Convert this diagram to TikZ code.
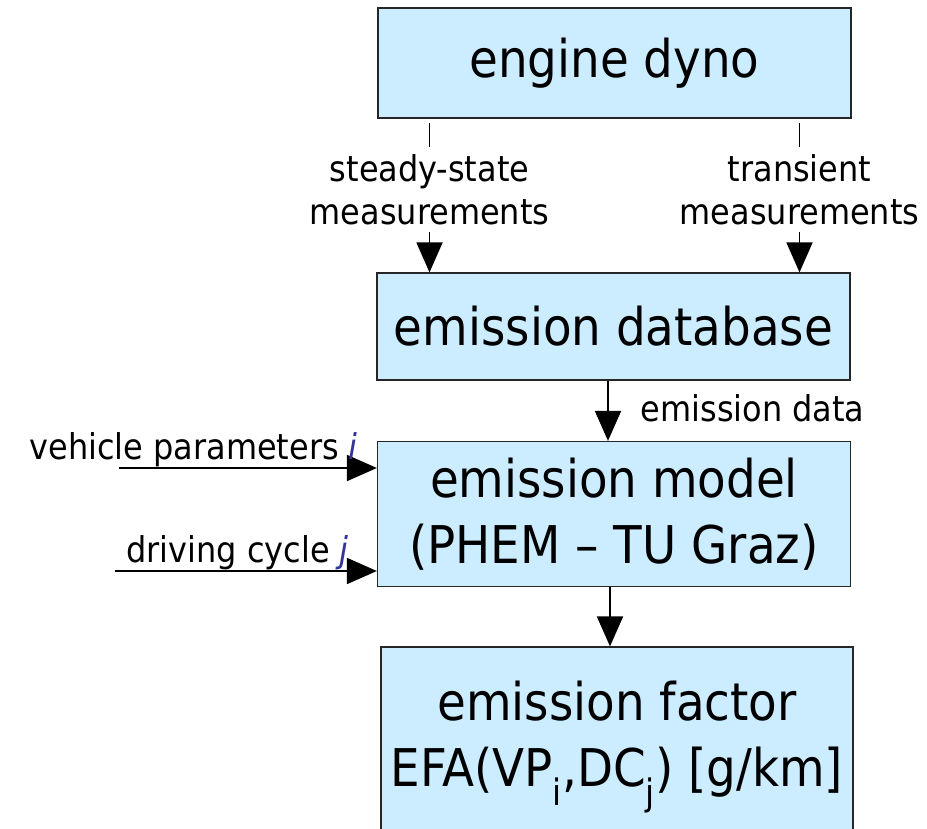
\documentclass[tikz,border=0pt]{standalone}
\usepackage{fontspec}
\setmainfont{DejaVu Sans Condensed}
\usetikzlibrary{arrows.meta}
\definecolor{boxblue}{RGB}{204,236,255}
\definecolor{idxblue}{RGB}{51,51,153}
\begin{document}
\begin{tikzpicture}[x=1pt,y=-1pt,
    box/.style={draw=black!85,line width=1.2pt,fill=boxblue,minimum width=473pt,
      align=center,inner sep=0pt,font=\fontsize{52}{66}\selectfont},
    lbl/.style={font=\fontsize{35.5}{43}\selectfont,align=center,inner sep=0pt},
    arr/.style={line width=1.8pt,-{Triangle[length=30pt,width=26pt]}}]
    \useasboundingbox (0,0) rectangle (927,829);

    % Kaesten
    \node[box,minimum height=110pt] (dyno) at (614.5,63) {engine dyno};
    \node[box,minimum height=107pt] (db) at (613.5,326.5) {emission database};
    \node[box,minimum height=145pt] (model) at (614,514) {emission model\\(PHEM -- TU Graz)};
    \node[box,minimum height=200pt,minimum width=472pt] (factor) at (617,747) {emission factor\\EFA(VP\textsubscript{i},DC\textsubscript{j}) [g/km]};

    % Messungen
    \draw[arr,shorten <=4pt] ([xshift=-185pt]dyno.south) -- node[lbl,fill=white,inner ysep=7pt,yshift=6pt] (steady) {steady-state\\measurements} ([xshift=-185pt]dyno.south |- db.north);
    \draw[arr,shorten <=4pt] ([xshift=185pt]dyno.south) -- node[lbl,fill=white,inner ysep=7pt,yshift=6pt] (trans) {transient\\measurements} ([xshift=185pt]dyno.south |- db.north);

    % Emissionsdaten
    \draw[arr] ([xshift=-5.5pt]db.south) -- node[lbl,anchor=west,xshift=32pt,yshift=2pt] (edata) {emission data} ([xshift=-5.5pt]db.south |- model.north);

    % Eingaben
    \coordinate (vp) at (119,468);
    \coordinate (dc) at (115,571);
    \draw[arr] (vp) -- (vp -| model.west);
    \draw[arr] (dc) -- (dc -| model.west);
    \node[lbl,anchor=base east] (vplbl) at (358,459) {vehicle parameters \textcolor{idxblue}{\textit{i}}};
    \node[lbl,anchor=base east] (dclbl) at (349,562) {driving cycle \textcolor{idxblue}{\textit{j}}};

    % Emissionsfaktor
    \draw[arr] ([xshift=-4pt]model.south) -- ([xshift=-4pt]model.south |- factor.north);
\end{tikzpicture}
\end{document}
